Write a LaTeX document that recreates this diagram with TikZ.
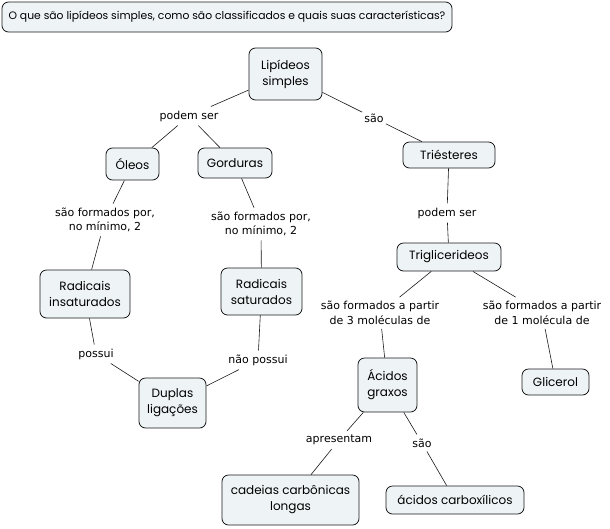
\documentclass[tikz,border=0pt]{standalone}
\usepackage{fontspec}
\setmainfont{DejaVu Sans}
\newfontfamily\conceptfont{Poppins}
\usepackage{xcolor}
\usepackage{tikz}
\usetikzlibrary{positioning}
\definecolor{cmapFill}{RGB}{238,243,246}
\definecolor{cmapLine}{RGB}{25,25,25}

\tikzset{
  concept/.style={draw=cmapLine, fill=cmapFill, rounded corners=6.5pt, line width=0.8pt,
    align=center, font=\conceptfont\fontsize{12}{16}\selectfont, inner sep=3pt},
  linkphrase/.style={align=center, font=\fontsize{11}{14.5}\selectfont, inner xsep=2pt, inner ysep=4pt},
  link/.style={draw=cmapLine, line width=0.6pt}
}

\begin{document}
\begin{tikzpicture}[x=1pt,y=-1pt]
\useasboundingbox (0,0) rectangle (610,528);

% concepts
\node[concept, font=\conceptfont\fontsize{10.8}{14}\selectfont, minimum width=450, minimum height=30] (question) at (227,17)
  {O que são lipídeos simples, como são classificados e quais suas características?};
\node[concept, minimum width=73, minimum height=52] (lipideos) at (285.5,74) {Lipídeos\\simples};
\node[concept, minimum width=53, minimum height=32] (oleos) at (132.5,164) {Óleos};
\node[concept, minimum width=74, minimum height=30] (gorduras) at (235,163) {Gorduras};
\node[concept, minimum width=92, minimum height=26] (triesteres) at (449,155) {Triésteres};
\node[concept, minimum width=90, minimum height=48] (radins) at (85,294) {Radicais\\insaturados};
\node[concept, minimum width=81, minimum height=47] (radsat) at (261.5,291.5) {Radicais\\saturados};
\node[concept, minimum width=67, minimum height=50] (duplas) at (172.5,403) {Duplas\\ligações};
\node[concept, minimum width=104, minimum height=28] (trig) at (449,257) {Triglicerideos};
\node[concept, minimum width=59, minimum height=54] (acidos) at (387.5,385) {Ácidos\\graxos};
\node[concept, minimum width=67, minimum height=26] (glicerol) at (555.5,382) {Glicerol};
\node[concept, minimum width=137, minimum height=50] (cadeias) at (290.5,500) {cadeias carbônicas\\longas};
\node[concept, minimum width=138, minimum height=28] (carbox) at (455,500) {ácidos carboxílicos};

% linking phrases
\node[linkphrase] (podem) at (189,116) {podem ser};
\node[linkphrase] (sao) at (374,118) {são};
\node[linkphrase] (formOleos) at (105,220) {são formados por,\\no mínimo, 2};
\node[linkphrase] (formGord) at (261,224) {são formados por,\\no mínimo, 2};
\node[linkphrase] (possui) at (96,354) {possui};
\node[linkphrase] (naopossui) at (258,360) {não possui};
\node[linkphrase] (podemTri) at (447,213) {podem ser};
\node[linkphrase] (form3) at (380,313) {são formados a partir\\de 3 moléculas de};
\node[linkphrase] (form1) at (542,313) {são formados a partir\\de 1 molécula de};
\node[linkphrase] (apresentam) at (339,440) {apresentam};
\node[linkphrase] (saoAc) at (422,443) {são};

% connectors
\draw[link] (lipideos) -- (podem);
\draw[link] (podem) -- (oleos);
\draw[link] (podem) -- (gorduras);
\draw[link] (lipideos) -- (sao);
\draw[link] (sao) -- (triesteres);
\draw[link] (oleos) -- (formOleos);
\draw[link] (formOleos) -- (radins);
\draw[link] (gorduras) -- (formGord);
\draw[link] (formGord) -- (radsat);
\draw[link] (radins) -- (possui);
\draw[link] (possui) -- (duplas);
\draw[link] (radsat) -- (naopossui);
\draw[link] (naopossui) -- (duplas);
\draw[link] (triesteres) -- (podemTri);
\draw[link] (podemTri) -- (trig);
\draw[link] (trig) -- (form3);
\draw[link] (form3) -- (acidos);
\draw[link] (trig) -- (form1);
\draw[link] (form1) -- (glicerol);
\draw[link] (acidos) -- (apresentam);
\draw[link] (apresentam) -- (cadeias);
\draw[link] (acidos) -- (saoAc);
\draw[link] (saoAc) -- (carbox);
\end{tikzpicture}
\end{document}
